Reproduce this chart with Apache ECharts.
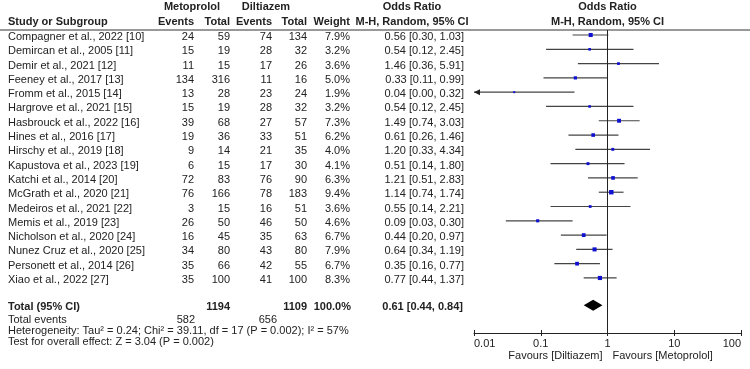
<!DOCTYPE html>
<html>
<head>
<meta charset="utf-8">
<script src="https://cdn.jsdelivr.net/npm/echarts@6/dist/echarts.min.js"></script>
<style>
  html, body { margin: 0; padding: 0; background: #fff; }
  #chart { width: 750px; height: 369px; }
</style>
</head>
<body>
<div id="chart"></div>
<script>
const studies = [
  'Compagner et al., 2022 [10]', 'Demircan et al., 2005 [11]', 'Demir et al., 2021 [12]',
  'Feeney et al., 2017 [13]', 'Fromm et al., 2015 [14]', 'Hargrove et al., 2021 [15]',
  'Hasbrouck et al., 2022 [16]', 'Hines et al., 2016 [17]', 'Hirschy et al., 2019 [18]',
  'Kapustova et al., 2023 [19]', 'Katchi et al., 2014 [20]', 'McGrath et al., 2020 [21]',
  'Medeiros et al., 2021 [22]', 'Memis et al., 2019 [23]', 'Nicholson et al., 2020 [24]',
  'Nunez Cruz et al., 2020 [25]', 'Personett et al., 2014 [26]', 'Xiao et al., 2022 [27]'
]
const metEvents = [24, 15, 11, 134, 13, 15, 39, 19, 9, 6, 72, 76, 3, 26, 16, 34, 35, 35]
const metTotal = [59, 19, 15, 316, 28, 19, 68, 36, 14, 15, 83, 166, 15, 50, 45, 80, 66, 100]
const dilEvents = [74, 28, 17, 11, 23, 28, 27, 33, 21, 17, 76, 78, 16, 46, 35, 43, 42, 41]
const dilTotal = [134, 32, 26, 16, 24, 32, 57, 51, 35, 30, 90, 183, 51, 50, 63, 80, 55, 100]
const weights = [7.9, 3.2, 3.6, 5.0, 1.9, 3.2, 7.3, 6.2, 4.0, 4.1, 6.3, 9.4, 3.6, 4.6, 6.7, 7.9, 6.7, 8.3]
const oddsRatio = [0.56, 0.54, 1.46, 0.33, 0.04, 0.54, 1.49, 0.61, 1.20, 0.51, 1.21, 1.14, 0.55, 0.09, 0.44, 0.64, 0.35, 0.77]
const ciLow = [0.30, 0.12, 0.36, 0.11, 0.00, 0.12, 0.74, 0.26, 0.33, 0.14, 0.51, 0.74, 0.14, 0.03, 0.20, 0.34, 0.16, 0.44]
const ciHigh = [1.03, 2.45, 5.91, 0.99, 0.32, 2.45, 3.03, 1.46, 4.34, 1.80, 2.83, 1.74, 2.21, 0.30, 0.97, 1.19, 0.77, 1.37]

// pooled result
const totalOr = [0.44, 0.61, 0.84]
const totalN = [1194, 1109]
const totalEvents = [582, 656]
const tickLabels = ['0.01', '0.1', '1', '10', '100']

const FONT = '11px "Liberation Sans", Arial, sans-serif'
const BOLD = 'bold 11px "Liberation Sans", Arial, sans-serif'
const INK = '#222'
const TOTAL_ROW = 18.9
const TEXT_DY = 2 // row text sits a little below the CI line

function txt(x, y, text, align, bold) {
  return {
    type: 'text', x: x, y: y, silent: true,
    style: {
      text: text, font: bold ? BOLD : FONT, fill: INK,
      align: align, textAlign: align, verticalAlign: 'middle', textVerticalAlign: 'middle'
    }
  }
}

const rows = studies.map((s, i) => [i, oddsRatio[i], ciLow[i], ciHigh[i], weights[i]])

const chart = echarts.init(document.getElementById('chart'), null, { renderer: 'canvas' })

chart.setOption({
  animation: false,
  backgroundColor: '#fff',
  grid: { left: 474, right: 9, top: 30, bottom: 36 },
  xAxis: [
    {
      type: 'log', logBase: 10, min: 0.01, max: 100, position: 'bottom',
      axisLine: { onZero: false, lineStyle: { color: INK, width: 1 } },
      axisTick: { inside: false, length: 3, lineStyle: { color: INK } },
      splitLine: { show: false },
      axisLabel: {
        color: INK, fontSize: 11, fontFamily: 'Liberation Sans', margin: 5,
        alignMinLabel: 'left', alignMaxLabel: 'right',
        formatter: v => tickLabels[Math.round(Math.log10(v)) + 2]
      }
    },
    {
      type: 'log', logBase: 10, min: 0.01, max: 100, position: 'bottom',
      axisLine: { show: false, onZero: false },
      axisTick: { inside: true, length: 3, lineStyle: { color: INK } },
      axisLabel: { show: false },
      splitLine: { show: false }
    }
  ],
  yAxis: { type: 'value', inverse: true, min: -0.35, max: 20.85, show: false },
  series: [
    {
      // table text per study row
      type: 'custom',
      data: rows,
      encode: { x: 1, y: 0 },
      renderItem(params, api) {
        const i = params.dataIndex
        const y = api.coord([1, api.value(0)])[1] + TEXT_DY
        return {
          type: 'group',
          children: [
            txt(8, y, studies[i], 'left'),
            txt(194, y, String(metEvents[i]), 'right'),
            txt(230, y, String(metTotal[i]), 'right'),
            txt(272, y, String(dilEvents[i]), 'right'),
            txt(307, y, String(dilTotal[i]), 'right'),
            txt(350, y, weights[i].toFixed(1) + '%', 'right'),
            txt(464, y, oddsRatio[i].toFixed(2) + ' [' + ciLow[i].toFixed(2) + ', ' + ciHigh[i].toFixed(2) + ']', 'right')
          ]
        }
      }
    },
    {
      // confidence intervals and weighted squares
      type: 'custom',
      data: rows,
      encode: { x: 1, y: 0 },
      clip: false,
      renderItem(params, api) {
        const row = api.value(0)
        const lo = api.value(2)
        const hi = api.value(3)
        const w = api.value(4)
        const clipped = lo < 0.01
        const pLo = api.coord([Math.max(lo, 0.01), row])
        const pHi = api.coord([Math.min(hi, 100), row])
        const pOr = api.coord([api.value(1), row])
        const s = Math.sqrt(w) * 1.45
        const children = [
          {
            type: 'line',
            shape: { x1: pLo[0], y1: pLo[1], x2: pHi[0], y2: pHi[1] },
            style: { stroke: '#444', lineWidth: 1.2 }
          },
          {
            type: 'rect',
            shape: { x: pOr[0] - s / 2, y: pOr[1] - s / 2, width: s, height: s },
            style: { fill: '#1010d0' }
          }
        ]
        if (clipped) {
          children.push({
            type: 'polygon',
            shape: { points: [[pLo[0], pLo[1]], [pLo[0] + 6, pLo[1] - 3], [pLo[0] + 6, pLo[1] + 3]] },
            style: { fill: '#222' }
          })
        }
        return { type: 'group', children: children }
      },
      markLine: {
        silent: true,
        symbol: 'none',
        label: { show: false },
        lineStyle: { color: INK, width: 1, type: 'solid' },
        data: [{ xAxis: 1 }]
      }
    },
    {
      // pooled estimate diamond and total row
      type: 'custom',
      data: [[TOTAL_ROW, totalOr[1], totalOr[0], totalOr[2]]],
      encode: { x: 1, y: 0 },
      renderItem(params, api) {
        const row = api.value(0)
        const pL = api.coord([api.value(2), row])
        const pC = api.coord([api.value(1), row])
        const pR = api.coord([api.value(3), row])
        const y = pC[1]
        const ty = y + TEXT_DY
        return {
          type: 'group',
          children: [
            {
              type: 'polygon',
              shape: { points: [[pL[0], y], [pC[0], y - 5.5], [pR[0], y], [pC[0], y + 5.5]] },
              style: { fill: '#000' }
            },
            txt(8, ty, 'Total (95% CI)', 'left', true),
            txt(230, ty, String(totalN[0]), 'right', true),
            txt(307, ty, String(totalN[1]), 'right', true),
            txt(351, ty, '100.0%', 'right', true),
            txt(463, ty, totalOr[1].toFixed(2) + ' [' + totalOr[0].toFixed(2) + ', ' + totalOr[2].toFixed(2) + ']', 'right', true)
          ]
        }
      }
    }
  ]
})

const x1 = chart.convertToPixel({ xAxisIndex: 0 }, 1)

chart.setOption({
  graphic: [
    txt(192, 7, 'Metoprolol', 'center', true),
    txt(266, 7, 'Diltiazem', 'center', true),
    txt(412, 7, 'Odds Ratio', 'center', true),
    txt(x1, 7, 'Odds Ratio', 'center', true),
    txt(8, 22, 'Study or Subgroup', 'left', true),
    txt(194, 22, 'Events', 'right', true),
    txt(230, 22, 'Total', 'right', true),
    txt(272, 22, 'Events', 'right', true),
    txt(307, 22, 'Total', 'right', true),
    txt(350, 22, 'Weight', 'right', true),
    txt(412, 22, 'M-H, Random, 95% CI', 'center', true),
    txt(x1, 22, 'M-H, Random, 95% CI', 'center', true),
    {
      type: 'line', silent: true,
      shape: { x1: 0, y1: 30, x2: 750, y2: 30 },
      style: { stroke: '#333', lineWidth: 1 }
    },
    txt(8, 320, 'Total events', 'left'),
    txt(195, 320, String(totalEvents[0]), 'right'),
    txt(277, 320, String(totalEvents[1]), 'right'),
    txt(8, 331, 'Heterogeneity: Tau\u00b2 = 0.24; Chi\u00b2 = 39.11, df = 17 (P = 0.002); I\u00b2 = 57%', 'left'),
    txt(8, 342, 'Test for overall effect: Z = 3.04 (P = 0.002)', 'left'),
    txt(x1 - 5, 356, 'Favours [Diltiazem]', 'right'),
    txt(x1 + 5, 356, 'Favours [Metoprolol]', 'left')
  ]
})
</script>
</body>
</html>
